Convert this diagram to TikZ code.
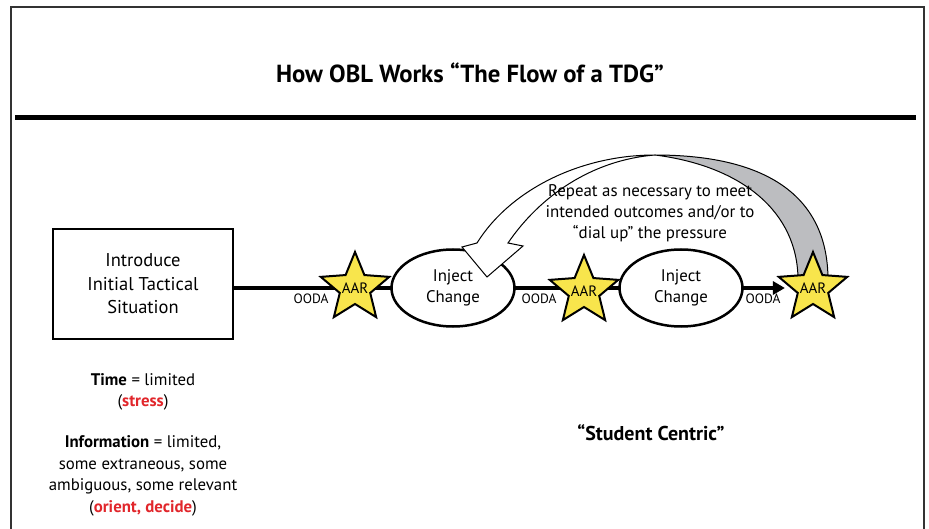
\documentclass[tikz,border=0pt]{standalone}
\usepackage{fontspec}
\setmainfont{PT Sans}
\usetikzlibrary{shapes.geometric,arrows.meta,backgrounds}
\definecolor{staryellow}{HTML}{F8E54C}
\definecolor{ribbongray}{HTML}{BCBDC0}
\definecolor{hotred}{HTML}{E1262B}
\definecolor{framegray}{HTML}{333333}
\begin{document}
\begin{tikzpicture}[x=1pt,y=-1pt,
  every node/.style={inner sep=0pt, outer sep=0pt},
  aarstar/.style={star, star points=5, star point ratio=2.25, minimum size=72pt,
    draw=black, line width=2pt, fill=staryellow,
    label={[font=\fontsize{15}{15}\selectfont]center:AAR}},
  inject/.style={ellipse, draw=black, line width=2.5pt, fill=white,
    minimum width=123pt, minimum height=77pt, align=center,
    font=\fontsize{16.8}{21}\selectfont},
  startbox/.style={rectangle, draw=black, line width=2.3pt, fill=white,
    minimum width=180pt, minimum height=110pt, align=center,
    font=\fontsize{18.5}{23.5}\selectfont},
  oodalabel/.style={font=\fontsize{13.5}{13.5}\selectfont},
  flowline/.style={line width=4pt},
  ribbon/.style={line width=1pt, draw=black, line join=miter},
  note/.style={align=center, font=\fontsize{16.8}{21.5}\selectfont}
]
\useasboundingbox (0,0) rectangle (929,529);
% frame
\draw[framegray, line width=1.3pt] (11,529) -- (11,7) -- (924,7) -- (924,529);
% title and rule
\node (title) at (470,73) {\fontsize{24.7}{24.7}\selectfont\bfseries How OBL Works “The Flow of a TDG”};
\draw[line width=5pt] (15,118) -- (916,118);

% nodes
\node[startbox] (intro) at (143,284) {Introduce\\Initial Tactical\\Situation};
\node[inject] (e1) at (453,288) {Inject\\Change};
\node[inject] (e2) at (681,288) {Inject\\Change};
\node[aarstar] (s1) at (355,288) {};
\node[aarstar] (s2) at (584,291) {};

% twisted return arrow
\filldraw[ribbon, fill=ribbongray] (655,155) .. controls (772,155) and (828,200) .. (828,280)
  -- (798,280) .. controls (798,212) and (742,166) .. (655,155) -- cycle;
\filldraw[ribbon, fill=white] (477,243) .. controls (510,190) and (580,155) .. (655,155)
  .. controls (592,160) and (540,196) .. (508,243)
  -- (523,246) -- (487,277) -- (462,247) -- cycle;

\node[aarstar] (s3) at (813,288) {};

% flow line
\begin{pgfonlayer}{background}
\draw[flowline] (intro.east |- s1.center) -- (s1.center) -- (e1.center) -- (e2.center);
\end{pgfonlayer}
\draw[flowline, -{Triangle[length=12pt,width=13pt]}, shorten >=7pt] (e2.east) -- (s3);

% OODA labels
\node[oodalabel] (o1) at (311,299) {OODA};
\node[oodalabel] (o2) at (539,299) {OODA};
\node[oodalabel] (o3) at (763,299) {OODA};

% repeat text
\node[align=center, font=\fontsize{16.9}{21}\selectfont] (repeat) at (650,213) {Repeat as necessary to meet\\intended outcomes and/or to\\“dial up” the pressure};

% left notes
\node[note] (time) at (143,392) {\textbf{Time} = limited\\(\textcolor{hotred}{\textbf{stress}})};
\node[note] (info) at (143,476) {\textbf{Information} = limited,\\some extraneous, some\\ambiguous, some relevant\\(\textcolor{hotred}{\textbf{orient, decide}})};

% student centric
\node (student) at (651,433) {\fontsize{20}{20}\selectfont\bfseries “Student Centric”};
\end{tikzpicture}
\end{document}
